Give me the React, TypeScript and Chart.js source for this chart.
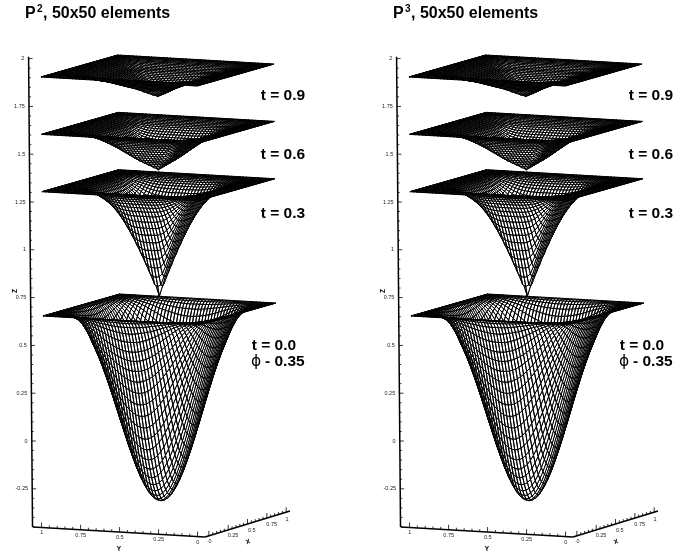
import React, { useEffect, useRef } from "react";
import { Chart, registerables } from "chart.js";

Chart.register(...registerables);

// The surfaces are wireframes of 51 x 51 nodes, far too many to read one by one.
// Each is rebuilt from the small profile tables below, which were estimated from the
// picture: it is a reconstruction of the shape, not a node-by-node reading.

const titleStart = "P";
const titlePowers = ["2", "3"];
const titleEnd = ", 50x50 elements";
const timeLabels = ["t = 0.0", "t = 0.3", "t = 0.6", "t = 0.9"];
const sheetLevels = [0.65, 1.3, 1.6, 1.9];
const shiftSymbol = "\u03D5";
const shiftText = "- 0.35";

// Cross-section of the initial bowl, edge to centre (relative depth).
const sectionProfile = [0, 0.024, 0.095, 0.206, 0.345, 0.5, 0.655, 0.794, 0.905, 0.976, 1];
// Depth below the sheet, from the centre (first) out to the edge (last).
const depthT00 = [1, 0.99, 0.96, 0.91, 0.84, 0.75, 0.64, 0.51, 0.36, 0.19, 0];
const depthT03 = [0.58, 0.45, 0.33, 0.225, 0.14, 0.08, 0.04, 0.016, 0.004, 0, 0];
const depthT06 = [0.22, 0.19, 0.16, 0.125, 0.09, 0.06, 0.035, 0.02, 0.008, 0, 0];
const depthT09 = [0.136, 0.115, 0.092, 0.075, 0.058, 0.042, 0.03, 0.016, 0.006, 0, 0];
const depthTables = [depthT00, depthT03, depthT06, depthT09];
// How square the contours of each later sheet are (they show ridges along the diagonals).
const contourSquareness = [0, 4, 6, 6];

const zMajorTicks = [-0.25, 0, 0.25, 0.5, 0.75, 1, 1.25, 1.5, 1.75, 2];
const zTickLabels = ["-0.25", "0", "0.25", "0.5", "0.75", "1", "1.25", "1.5", "1.75", "2"];
const planeMajorTicks = [0, 0.25, 0.5, 0.75, 1];
const planeTickLabels = ["0", "0.25", "0.5", "0.75", "1"];

const UNIT = 191.2;
const ELEMENTS = 50;

function smooth(table: number[], t: number, mirrorEnd: boolean) {
  const n = table.length - 1;
  const p = Math.min(Math.max(t, 0), 1) * n;
  const i = Math.min(Math.floor(p), n - 1);
  const f = p - i;
  const at = (k: number) => {
    if (k < 0) return mirrorEnd ? table[-k] : 2 * table[0] - table[1];
    if (k > n) return mirrorEnd ? table[2 * n - k] : table[n];
    return table[k];
  };
  const a = at(i - 1), b = at(i), c = at(i + 1), d = at(i + 2);
  return b + 0.5 * f * (c - a + f * (2 * a - 5 * b + 4 * c - d + f * (3 * (b - c) + d - a)));
}

const section = (s: number) => smooth(sectionProfile, Math.min(s, 1 - s) * 2, true);

function heightAt(sheet: number, x: number, y: number) {
  const q = contourSquareness[sheet];
  let rho: number;
  if (q === 0) {
    rho = Math.sqrt(Math.max(1 - Math.min(section(x) * section(y), 1), 0));
  } else {
    const dx = Math.abs(2 * x - 1);
    const dy = Math.abs(2 * y - 1);
    rho = Math.min(Math.pow(Math.pow(dx, q) + Math.pow(dy, q), 1 / q), 1);
  }
  return sheetLevels[sheet] - Math.max(smooth(depthTables[sheet], rho, false), 0);
}

// Oblique view of the 3D box, into the 2D units of the chart's scales.
function project(x: number, y: number, z: number) {
  const px = 44 + 77 * x + 156 * (1 - y) - 1.6 * z;
  const drop = -22 * x + 9 * (1 - y);
  return { x: px, y: z - drop / UNIT };
}

const fromPixel = (px: number, py: number) => ({ x: px, y: (440.3 - py) / UNIT });

const gridSteps: number[] = [];
for (let i = 0; i <= ELEMENTS; i++) gridSteps.push(i / ELEMENTS);

function line(data: { x: number; y: number }[], borderWidth: number) {
  return {
    data,
    borderColor: "#000",
    borderWidth,
    borderJoinStyle: "bevel",
    showLine: true,
    pointRadius: 0,
    tension: 0,
    fill: false,
  };
}

function cover(data: { x: number; y: number }[]) {
  return {
    data,
    borderColor: "rgba(0,0,0,0)",
    borderWidth: 0,
    backgroundColor: "#fff",
    showLine: true,
    pointRadius: 0,
    tension: 0,
    fill: "shape",
  };
}

// One strip of cells at a time, far to near and lowest sheet first, each with a
// white cover so that what lies behind it is hidden.
function meshDatasets() {
  const painted: any[] = [];
  sheetLevels.forEach((_, sheet) => {
    for (let i = ELEMENTS; i > 0; i--) {
      const far = gridSteps[i];
      const near = gridSteps[i - 1];
      const farEdge = gridSteps.map((b) => project(far, b, heightAt(sheet, far, b)));
      const nearEdge = gridSteps.map((b) => project(near, b, heightAt(sheet, near, b)));
      painted.push(cover([...farEdge, ...[...nearEdge].reverse()]));
      const path = [...farEdge];
      for (let k = ELEMENTS; k >= 0; k--) {
        path.push(nearEdge[k], farEdge[k], nearEdge[k]);
      }
      painted.push(line(path, 1));
    }
  });
  return painted.reverse(); // Chart.js paints the first dataset last
}

const zAxisPoint = (z: number) => fromPixel(31.8 - 1.6 * z, 441 - UNIT * z);
const yAxisPoint = (y: number) => fromPixel(33 + (1.055 - y) * 156, 527 + (1.055 - y) * 9.1);
const xAxisPoint = (x: number) => fromPixel(205 + (x + 0.05) * 77.3, 537 - (x + 0.05) * 23.6);

function axisDatasets() {
  const out: any[] = [];
  out.push(line([zAxisPoint(-0.45), zAxisPoint(2.01)], 1.5));
  out.push(line([yAxisPoint(1.055), yAxisPoint(-0.047)], 1.5));
  out.push(line([xAxisPoint(-0.05), xAxisPoint(1.05)], 1.5));
  for (let k = -9; k <= 40; k++) {
    const z = k * 0.05;
    const p = zAxisPoint(z);
    const len = k % 5 === 0 ? 4 : 2;
    out.push(line([p, { x: p.x + len, y: p.y }], 0.8));
  }
  for (let k = 0; k <= 20; k++) {
    const v = k * 0.05;
    const len = (k % 5 === 0 ? 5 : 2.5) / UNIT;
    const a = yAxisPoint(v);
    out.push(line([a, { x: a.x, y: a.y + len }], 0.8));
    const b = xAxisPoint(v);
    out.push(line([b, { x: b.x, y: b.y + len }], 0.8));
  }
  return out;
}

const FONT = '"Liberation Sans", Arial, sans-serif';
const yTickLabelPixels = [532.7, 535, 537, 539, 542]; // y = 1 .. 0
const xTickLabelPixels: [number, number][] = [[210, 541], [233, 535], [251.7, 530], [271.7, 524], [287, 519]];

function labelsPlugin(power: string) {
  return {
    id: "labels",
    afterDraw(chart: any) {
      const { ctx, scales } = chart;
      const px = (v: number) => scales.x.getPixelForValue(v);
      const text = (s: string, x: number, y: number, font: string, align: CanvasTextAlign, color = "#000") => {
        ctx.font = font;
        ctx.textAlign = align;
        ctx.fillStyle = color;
        ctx.fillText(s, px(x), y);
      };
      ctx.save();
      ctx.textBaseline = "alphabetic";
      const bold = `bold 15.5px ${FONT}`;
      const titleFont = `bold 16px ${FONT}`;
      text(titleStart, 25, 18, titleFont, "left");
      text(power, 37, 12, `bold 10px ${FONT}`, "left");
      text(titleEnd, 43, 18, titleFont, "left");
      text(timeLabels[3], 260.7, 100, bold, "left");
      text(timeLabels[2], 260.7, 159, bold, "left");
      text(timeLabels[1], 260.7, 218, bold, "left");
      text(timeLabels[0], 251.7, 350, bold, "left");
      text(shiftSymbol, 256, 366, `15.5px "DejaVu Sans", ${FONT}`, "center");
      text(shiftText, 265, 366, bold, "left");

      const small = `5.5px ${FONT}`;
      ctx.textBaseline = "middle";
      zMajorTicks.forEach((z, i) => {
        text(zTickLabels[i], 27.6 - 1.6 * z, 441 - UNIT * z, small, "right", "#222");
      });
      planeMajorTicks.forEach((_, i) => {
        const j = planeMajorTicks.length - 1 - i;
        text(planeTickLabels[i], 41.7 + 39 * j, yTickLabelPixels[j], small, "center", "#222");
        const [lx, ly] = xTickLabelPixels[i];
        text(planeTickLabels[i], lx, ly, small, "center", "#222");
      });
      const axisFont = `bold 6.5px ${FONT}`;
      text("Y", 119, 549, axisFont, "center");
      ctx.save();
      ctx.translate(px(248), 542);
      ctx.rotate(-0.3);
      ctx.font = axisFont;
      ctx.textAlign = "center";
      ctx.fillStyle = "#000";
      ctx.fillText("X", 0, 0);
      ctx.restore();
      ctx.save();
      ctx.translate(px(15), 291);
      ctx.rotate(-Math.PI / 2);
      ctx.font = axisFont;
      ctx.textAlign = "center";
      ctx.fillStyle = "#000";
      ctx.fillText("Z", 0, 0);
      ctx.restore();
      ctx.restore();
    },
  };
}

function Panel({ index, left, width, xMin }: { index: number; left: number; width: number; xMin: number }) {
  const ref = useRef<HTMLCanvasElement>(null);
  useEffect(() => {
    const chart = new Chart(ref.current as HTMLCanvasElement, {
      type: "scatter",
      data: { datasets: [...axisDatasets(), ...meshDatasets()] },
      options: {
        animation: false,
        responsive: false,
        devicePixelRatio: 1,
        events: [],
        layout: { padding: 0 },
        plugins: { legend: { display: false }, tooltip: { enabled: false }, title: { display: false } },
        scales: {
          x: { type: "linear", display: false, min: xMin, max: xMin + width },
          y: { type: "linear", display: false, min: (440.3 - 555) / UNIT, max: 440.3 / UNIT },
        },
      },
      plugins: [labelsPlugin(titlePowers[index])],
    } as any);
    return () => chart.destroy();
  }, [index, width, xMin]);
  return (
    <canvas
      ref={ref}
      width={width}
      height={555}
      style={{ position: "fixed", left, top: 0, width, height: 555, display: "block" }}
    />
  );
}

export default function App() {
  return (
    <div style={{ position: "fixed", left: 0, top: 0, width: 675, height: 555, background: "#fff" }}>
      <Panel index={0} left={0} width={338} xMin={0} />
      <Panel index={1} left={338} width={337} xMin={-30} />
    </div>
  );
}
